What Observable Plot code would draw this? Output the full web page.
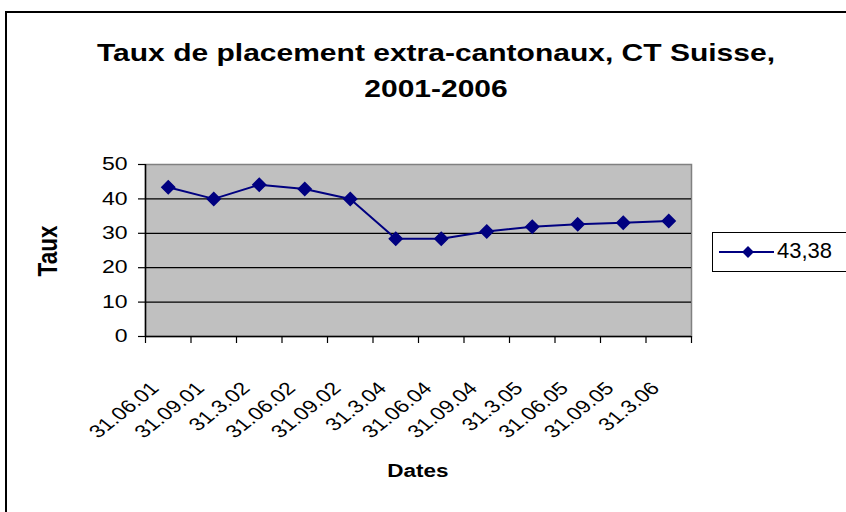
<!DOCTYPE html>
<html>
<head>
<meta charset="utf-8">
<script src="https://cdn.jsdelivr.net/npm/d3@7"></script>
<script src="https://cdn.jsdelivr.net/npm/@observablehq/plot@0.6"></script>
<style>
  html, body { margin: 0; padding: 0; background: #fff; overflow: hidden; }
  #wrap { position: relative; width: 846px; height: 512px; overflow: hidden; font-family: "Liberation Sans", Arial, sans-serif; color: #000; }
  #border { position: absolute; left: 5px; top: 11px; width: 900px; height: 600px; border: 2px solid #000; box-sizing: border-box; }
  #chart { position: absolute; left: 0; top: 0; }
  .title { position: absolute; left: 436px; transform: translateX(-50%) scaleX(1.25); white-space: nowrap; font-weight: bold; font-size: 24px; line-height: 28px; }
  #ylab { position: absolute; left: 48px; top: 251px; transform: translate(-50%, -50%) scaleX(1.23) rotate(-90deg); font-weight: bold; font-size: 22.5px; line-height: 26px; }
  #xlab { position: absolute; left: 418px; top: 460px; transform: translateX(-50%) scaleX(1.25); font-weight: bold; font-size: 18px; line-height: 22px; }
  #legend { position: absolute; left: 712px; top: 232px; width: 200px; height: 40px; border: 1.5px solid #000; box-sizing: border-box; background: #fff; }
  #legend svg { position: absolute; left: 4px; top: 10.5px; }
  #legend span { position: absolute; left: 64px; top: 5px; font-size: 22px; line-height: 25px; }
</style>
</head>
<body>
<div id="wrap">
  <div id="border"></div>
  <div id="chart"></div>
  <div class="title" style="top:39px">Taux de placement extra-cantonaux, CT Suisse,</div>
  <div class="title" style="top:75px">2001-2006</div>
  <div id="ylab">Taux</div>
  <div id="xlab">Dates</div>
  <div id="legend"></div>
</div>
<script>
const dates = ["31.06.01","31.09.01","31.3.02","31.06.02","31.09.02","31.3.04","31.06.04","31.09.04","31.3.05","31.06.05","31.09.05","31.3.06"];
const values = [43.38, 40.0, 44.1, 42.9, 40.0, 28.4, 28.4, 30.5, 31.9, 32.6, 33.1, 33.6];
const seriesName = "43,38";
const yTicks = [0, 10, 20, 30, 40, 50];

const navy = "#000080";
const data = dates.map((d, i) => ({date: d, value: values[i], idx: i + 0.5}));
const boundaries = d3.range(dates.length + 1);

const chart = Plot.plot({
  width: 846,
  height: 512,
  marginLeft: 145,
  marginRight: 155,
  marginTop: 164,
  marginBottom: 176,
  style: {fontFamily: "Liberation Sans, Arial, sans-serif", background: "transparent"},
  x: {domain: [0, dates.length], axis: null},
  y: {domain: [0, 50], axis: null},
  marks: [
    Plot.frame({fill: "#c0c0c0", stroke: "#808080", strokeWidth: 1.5}),
    Plot.ruleY(yTicks.filter(t => t > 0 && t < 50), {stroke: "#000", strokeWidth: 1.2}),
    Plot.axisY({ticks: yTicks, tickSize: 7, tickPadding: 11, fontSize: 18, label: null, stroke: "#000", strokeWidth: 1.2, color: "#000"}),
    Plot.axisX({ticks: boundaries, tickSize: 7, tickFormat: () => "", label: null, stroke: "#000", strokeWidth: 1.2}),
    Plot.ruleY([0], {stroke: "#000", strokeWidth: 1.5}),
    Plot.ruleX([0], {stroke: "#000", strokeWidth: 1.5}),
    Plot.line(data, {x: "idx", y: "value", stroke: navy, strokeWidth: 2}),
    Plot.dot(data, {x: "idx", y: "value", symbol: "diamond2", r: 5.8, fill: navy, stroke: navy}),
    Plot.text(data, {x: "idx", frameAnchor: "bottom", text: "date", rotate: -45, textAnchor: "end", lineAnchor: "top", dx: -20, dy: 44, fontSize: 18, fill: "#000"})
  ]
});
document.getElementById("chart").appendChild(chart);

// horizontal stretch of the glyphs (as in the reference rendering), about each label's anchor
const svgNS = "http://www.w3.org/2000/svg";
function stretchText(t, k) {
  const b = t.getBBox();
  const parent = t.parentNode;
  const M = parent.getScreenCTM().inverse().multiply(t.getScreenCTM());
  const p = chart.createSVGPoint();
  p.x = b.x + b.width; p.y = b.y;
  const q = p.matrixTransform(M);
  const g = document.createElementNS(svgNS, "g");
  g.setAttribute("transform", `translate(${q.x},0) scale(${k},1) translate(${-q.x},0)`);
  parent.insertBefore(g, t);
  g.appendChild(t);
}
const yTickStrings = new Set(yTicks.map(String));
const dateStrings = new Set(dates);
Array.from(chart.querySelectorAll("text")).forEach(t => {
  const s = t.textContent.trim();
  if (yTickStrings.has(s)) stretchText(t, 1.28);
  else if (dateStrings.has(s)) stretchText(t, 1.25);
});

// legend
const leg = document.getElementById("legend");
const ls = d3.create("svg").attr("width", 62).attr("height", 16);
ls.append("line").attr("x1", 2).attr("x2", 57).attr("y1", 8).attr("y2", 8).attr("stroke", navy).attr("stroke-width", 2);
ls.append("path").attr("d", d3.symbol(d3.symbolDiamond2, 90)()).attr("transform", "translate(31,8)").attr("fill", navy);
leg.appendChild(ls.node());
const sp = document.createElement("span");
sp.textContent = seriesName;
leg.appendChild(sp);
</script>
</body>
</html>
